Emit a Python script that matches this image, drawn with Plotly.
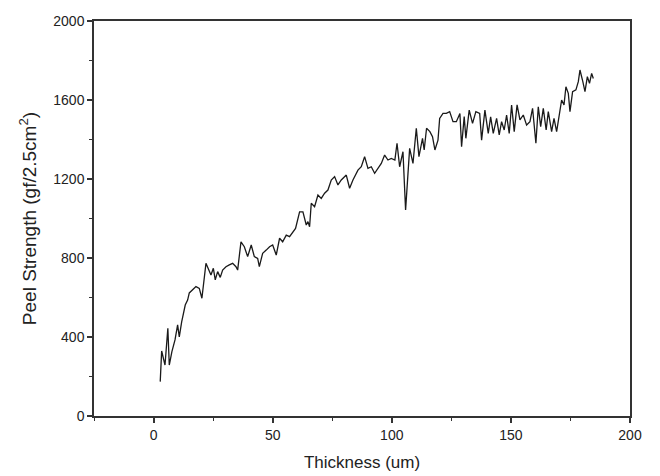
import plotly.graph_objects as go

thickness = [2.8, 3.4, 4.8, 6.0, 6.6, 7.7, 9.0, 10.1, 10.8, 11.8, 13.3, 14.3, 15.0, 16.4, 17.8, 19.2,
             20.3, 22.0, 23.1, 24.1, 25.1, 25.9, 26.9, 28.0, 29.0, 30.4, 31.8, 33.2, 34.6, 35.3, 36.7,
             38.1, 39.5, 41.0, 42.3, 43.7, 44.4, 45.8, 47.3, 48.7, 50.0, 51.5, 52.9, 54.2, 55.7, 57.1,
             59.6, 61.3, 62.7, 64.1, 64.8, 65.5, 66.2, 67.6, 69.0, 70.4, 71.8, 73.2, 74.6, 76.0, 77.4,
             78.8, 80.9, 82.3, 83.7, 85.8, 87.2, 88.6, 90.0, 91.4, 92.8, 94.2, 95.6, 97.0, 98.4, 99.8,
             101.3, 102.2, 103.3, 104.7, 105.8, 107.5, 108.9, 110.3, 111.4, 112.9, 113.6, 114.6, 116.0,
             117.1, 118.1, 119.4, 120.1, 121.5, 122.9, 124.3, 125.7, 127.1, 128.6, 129.3, 130.4, 131.1,
             132.5, 133.9, 135.3, 136.9, 137.7, 139.1, 140.5, 141.5, 142.6, 144.0, 145.1, 146.1, 147.2,
             148.2, 149.3, 150.3, 151.4, 152.6, 153.8, 155.2, 156.6, 158.0, 159.1, 160.5, 161.5, 162.5,
             163.6, 164.8, 165.7, 167.1, 168.1, 169.2, 170.3, 171.3, 172.3, 173.1, 174.1, 174.8, 175.9,
             177.3, 178.3, 179.0, 180.2, 181.1, 182.1, 183.0, 183.9, 184.6]

peel_strength = [174, 329, 258, 444, 258, 326, 385, 461, 401, 477, 562, 587, 623, 638, 655, 646,
                 596, 773, 739, 714, 748, 689, 731, 702, 739, 756, 765, 773, 756, 739, 882,
                 857, 807, 866, 807, 798, 756, 824, 840, 857, 866, 815, 900, 882, 916, 908,
                 950, 1034, 1034, 967, 984, 958, 1077, 1060, 1119, 1102, 1128, 1144, 1195, 1212, 1170,
                 1195, 1220, 1153, 1195, 1245, 1262, 1313, 1254, 1262, 1229, 1254, 1279, 1321, 1296, 1304,
                 1296, 1381, 1262, 1338, 1043, 1355, 1279, 1457, 1313, 1406, 1347, 1457, 1440,
                 1414, 1347, 1397, 1507, 1532, 1532, 1541, 1490, 1490, 1532, 1364, 1516, 1406,
                 1549, 1482, 1541, 1532, 1397, 1549, 1431, 1515, 1431, 1507, 1423, 1490, 1448,
                 1524, 1431, 1575, 1440, 1575, 1499, 1524, 1473, 1490, 1558, 1381, 1566, 1465,
                 1558, 1448, 1541, 1440, 1507, 1440, 1515, 1600, 1575, 1667, 1634, 1541, 1642,
                 1651, 1693, 1752, 1693, 1642, 1718, 1684, 1735, 1709]

x_ticks = [0, 50, 100, 150, 200]
y_ticks = [0, 400, 800, 1200, 1600, 2000]

fig = go.Figure()
fig.add_trace(go.Scatter(x=thickness, y=peel_strength, mode="lines",
                         line=dict(color="#1a1a1a", width=1.3), showlegend=False))

font = dict(family="Liberation Sans, Arial, sans-serif", color="#222222")
fig.update_layout(
    width=652, height=468,
    margin=dict(l=86, r=30, t=13, b=60),
    paper_bgcolor="white", plot_bgcolor="white",
    font=font,
)
fig.update_xaxes(
    range=[-25, 200], tickvals=x_ticks, ticktext=[str(v) for v in x_ticks],
    ticks="outside", ticklen=5, tickwidth=1.5, tickcolor="#333",
    showline=True, linecolor="#333", linewidth=1.5, mirror=True,
    showgrid=False, zeroline=False, automargin=False,
    tickfont=dict(size=14, color="#222"),
    minor=dict(tickvals=[-25, 25, 75, 125, 175], ticks="outside", ticklen=3, tickcolor="#333", tickwidth=1.2),
    title=dict(text="Thickness (um)", font=dict(size=17, color="#222"), standoff=15),
)
fig.update_yaxes(
    range=[0, 2000], tickvals=y_ticks, ticktext=[str(v) for v in y_ticks],
    ticks="outside", ticklen=5, tickwidth=1.5, tickcolor="#333",
    showline=True, linecolor="#333", linewidth=1.5, mirror=True,
    showgrid=False, zeroline=False, automargin=False,
    tickfont=dict(size=14, color="#222"),
    minor=dict(tickvals=[200, 600, 1000, 1400, 1800], ticks="outside", ticklen=3, tickcolor="#333", tickwidth=1.2),
    title=dict(text="Peel Strength (gf/2.5cm<sup>2</sup>)", font=dict(size=19, color="#222"), standoff=12),
)
fig.write_html("out.html")
